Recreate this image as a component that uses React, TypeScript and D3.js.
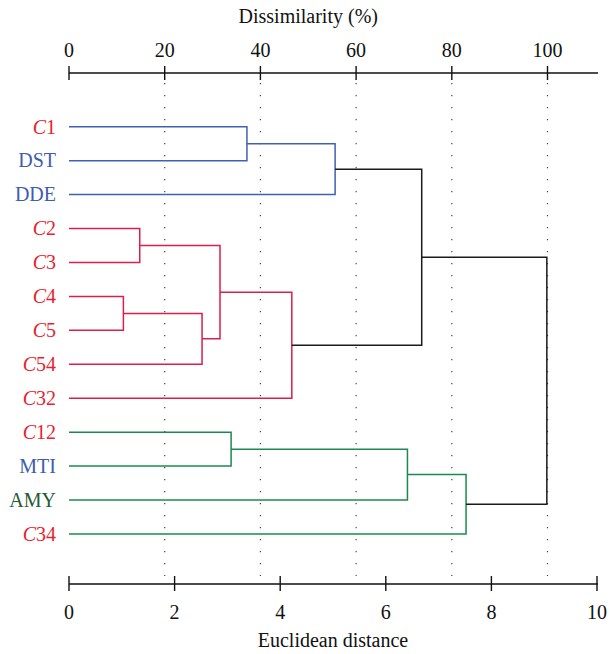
import * as d3 from "d3";
import React, { useEffect, useRef } from "react";

// Leaves of the dendrogram, top to bottom.
const leaves = ["C1", "DST", "DDE", "C2", "C3", "C4", "C5", "C54", "C32", "C12", "MTI", "AMY", "C34"];
const leafColors = ["red", "blue", "blue", "red", "red", "red", "red", "red", "red", "red", "blue", "darkgreen", "red"];

// Linkage: node ids 0..12 are leaves, each merge creates node 13, 14, ...
const mergeA = [0, 13, 3, 5, 16, 15, 18, 14, 9, 21, 22, 20];
const mergeB = [1, 2, 4, 6, 7, 17, 8, 19, 10, 11, 12, 23];
const mergeHeights = [3.37, 5.04, 1.34, 1.03, 2.52, 2.86, 4.22, 6.68, 3.07, 6.41, 7.52, 9.05];
const mergeGroups = ["blue", "blue", "red", "red", "red", "red", "red", "black", "green", "green", "green", "black"];

const distTicks = [0, 2, 4, 6, 8, 10];
const pctTicks = [0, 20, 40, 60, 80, 100];

const palette: Record<string, string> = {
  red: "#e8222e",
  blue: "#3d5daf",
  darkgreen: "#1f5c35",
  green: "#1c8a4c",
  black: "#1a1a1a",
};
const linePalette: Record<string, string> = {
  red: "#d91f4b",
  blue: "#4060b0",
  green: "#1c8a4c",
  black: "#1a1a1a",
};

export default function App() {
  const ref = useRef<SVGSVGElement>(null);

  useEffect(() => {
    const width = 610;
    const height = 654;
    const font = "Liberation Serif, Times New Roman, serif";

    const svg = d3.select(ref.current);
    svg.selectAll("*").remove();
    svg.attr("width", width).attr("height", height).attr("viewBox", [0, 0, width, height]);

    const x = d3.scaleLinear([0, 10], [69, 597]);
    const xPct = d3.scaleLinear([0, 100], [69, 547.5]);
    const y = d3.scalePoint(leaves, [126.7, 534]);

    const topY = 73;
    const bottomY = 584;

    // Posiciones de cada nodo (x = altura, y = promedio de los hijos).
    const nodeX: number[] = leaves.map(() => x(0));
    const nodeY: number[] = leaves.map((l) => y(l)!);
    mergeHeights.forEach((h, i) => {
      nodeX.push(x(h));
      nodeY.push((nodeY[mergeA[i]] + nodeY[mergeB[i]]) / 2);
    });

    // Líneas punteadas de la escala de disimilitud.
    svg
      .append("g")
      .selectAll("line")
      .data(pctTicks.slice(1))
      .join("line")
      .attr("x1", (d) => xPct(d))
      .attr("x2", (d) => xPct(d))
      .attr("y1", topY + 10)
      .attr("y2", bottomY - 8)
      .attr("stroke", "#444")
      .attr("stroke-width", 1.2)
      .attr("stroke-dasharray", "1.2,10.8");

    // Ramas.
    svg
      .append("g")
      .attr("fill", "none")
      .attr("stroke-width", 1.5)
      .selectAll("path")
      .data(d3.range(mergeHeights.length))
      .join("path")
      .attr("stroke", (i) => linePalette[mergeGroups[i]])
      .attr("d", (i) => {
        const a = mergeA[i];
        const b = mergeB[i];
        const hx = x(mergeHeights[i]);
        return `M${nodeX[a]},${nodeY[a]}H${hx}V${nodeY[b]}H${nodeX[b]}`;
      });

    // Etiquetas de las hojas.
    const labels = svg
      .append("g")
      .attr("font-family", font)
      .attr("font-size", 20)
      .attr("text-anchor", "end")
      .selectAll("text")
      .data(leaves)
      .join("text")
      .attr("x", 56)
      .attr("y", (d) => y(d)!)
      .attr("dy", "0.34em")
      .attr("fill", (_, i) => palette[leafColors[i]]);
    labels.each(function (d) {
      const t = d3.select(this);
      const m = /^C(\d+)$/.exec(d);
      if (m) {
        t.append("tspan").attr("font-style", "italic").text("C");
        t.append("tspan").text(m[1]);
      } else {
        t.text(d);
      }
    });

    // Eje superior.
    const top = svg.append("g").attr("stroke", "#111").attr("stroke-width", 1.4);
    top.append("line").attr("x1", 69).attr("x2", 598).attr("y1", topY).attr("y2", topY);
    top
      .selectAll("line.tick")
      .data(pctTicks)
      .join("line")
      .attr("class", "tick")
      .attr("x1", (d) => xPct(d))
      .attr("x2", (d) => xPct(d))
      .attr("y1", topY - 7)
      .attr("y2", topY + 7);
    svg
      .append("g")
      .attr("font-family", font)
      .attr("font-size", 20)
      .attr("text-anchor", "middle")
      .attr("fill", "#111")
      .selectAll("text")
      .data(pctTicks)
      .join("text")
      .attr("x", (d) => xPct(d))
      .attr("y", 57)
      .text((d) => d);

    // Eje inferior.
    const bottom = svg.append("g").attr("stroke", "#111").attr("stroke-width", 1.4);
    bottom.append("line").attr("x1", 69).attr("x2", 598).attr("y1", bottomY).attr("y2", bottomY);
    bottom
      .selectAll("line.tick")
      .data(distTicks)
      .join("line")
      .attr("class", "tick")
      .attr("x1", (d) => x(d))
      .attr("x2", (d) => x(d))
      .attr("y1", bottomY - 8)
      .attr("y2", bottomY + 7);
    svg
      .append("g")
      .attr("font-family", font)
      .attr("font-size", 20)
      .attr("text-anchor", "middle")
      .attr("fill", "#111")
      .selectAll("text")
      .data(distTicks)
      .join("text")
      .attr("x", (d) => x(d))
      .attr("y", 619)
      .text((d) => d);

    // Títulos.
    svg
      .append("text")
      .attr("x", xPct(50))
      .attr("y", 23)
      .attr("text-anchor", "middle")
      .attr("font-family", font)
      .attr("font-size", 20)
      .attr("fill", "#111")
      .text("Dissimilarity (%)");
    svg
      .append("text")
      .attr("x", x(5))
      .attr("y", 647)
      .attr("text-anchor", "middle")
      .attr("font-family", font)
      .attr("font-size", 20)
      .attr("fill", "#111")
      .text("Euclidean distance");
  }, []);

  return <svg ref={ref} style={{ position: "absolute", left: 0, top: 0, display: "block" }}></svg>;
}
